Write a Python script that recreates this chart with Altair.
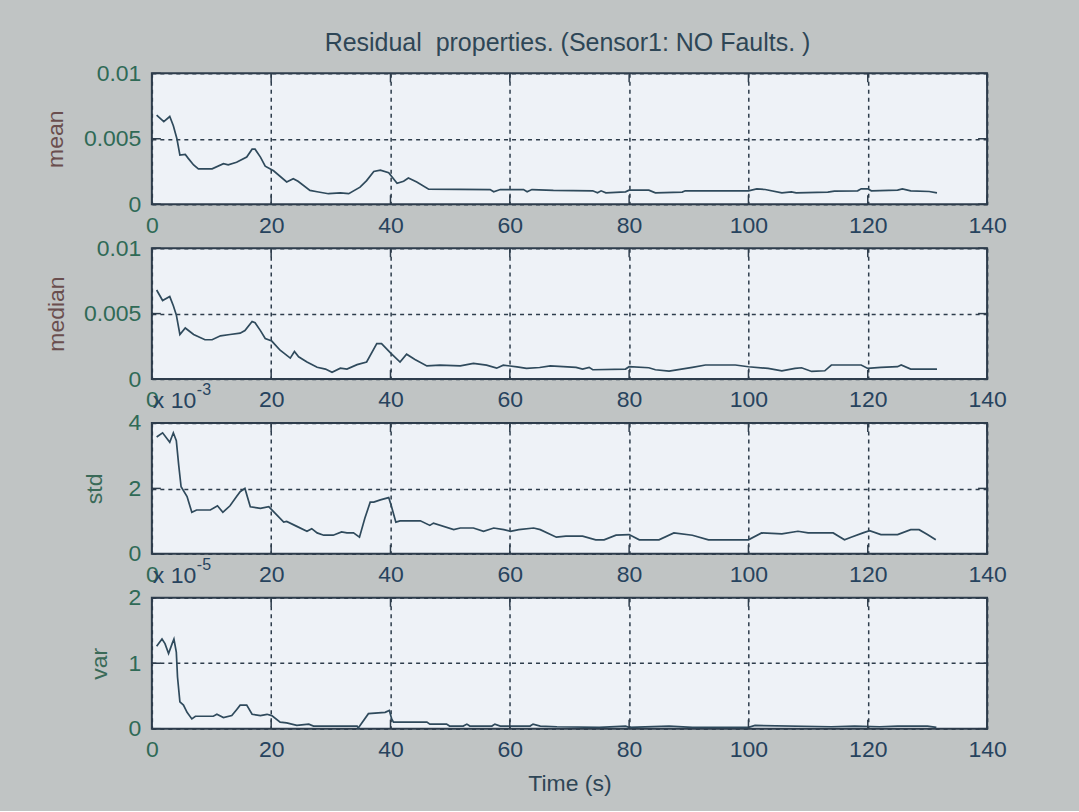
import altair as alt
import pandas as pd

TITLE = "Residual\u00a0 properties. (Sensor1: NO Faults. )"
x_ticks = [0, 20, 40, 60, 80, 100, 120, 140]

mean_t = [0.8, 2.0, 3.0, 3.6, 4.2, 4.7, 5.6, 6.1, 7.0, 7.8, 10.1, 12.0, 12.8, 14.2, 15.9, 16.8, 17.3, 18.2, 19.0, 20.4,
          22.6, 23.7, 24.5, 26.5, 27.7, 29.6, 31.6, 33.0, 34.9, 36.0, 37.2, 38.3, 39.7, 41.1, 42.2, 43.0, 44.4, 46.4,
          56.7, 57.3, 58.4, 62.3, 62.9, 63.7, 67.3, 73.9, 74.7, 75.3, 76.1, 79.4, 80.0, 83.3, 84.4, 88.9, 89.4, 100.0,
          101.4, 102.8, 105.6, 107.2, 108.0, 113.3, 114.4, 118.3, 118.9, 120.0, 120.6, 125.0, 125.8, 127.2, 130.3, 131.6]
mean_v = [0.0068, 0.0063, 0.0067, 0.0060, 0.0050, 0.00375, 0.0038, 0.0035, 0.0030, 0.0027, 0.0027, 0.0031, 0.0030,
          0.0032, 0.0036, 0.0042, 0.0042, 0.0036, 0.0029, 0.00255, 0.0017, 0.00195, 0.00175, 0.00105, 0.00095, 0.0008,
          0.00087, 0.0008, 0.0013, 0.0018, 0.0025, 0.0026, 0.0024, 0.0016, 0.00175, 0.0020, 0.0017, 0.00115, 0.00112,
          0.00095, 0.00112, 0.00112, 0.00095, 0.00112, 0.00105, 0.00102, 0.00087, 0.00102, 0.00087, 0.00094, 0.00107,
          0.00107, 0.00087, 0.00092, 0.00102, 0.00102, 0.00117, 0.00112, 0.00087, 0.00094, 0.00087, 0.00092, 0.0010,
          0.00102, 0.00117, 0.00117, 0.00102, 0.00107, 0.00117, 0.00102, 0.00097, 0.00087]

median_t = [0.8, 1.8, 3.0, 3.6, 4.1, 4.7, 5.6, 7.0, 8.9, 10.1, 11.5, 13.1, 14.8, 15.6, 16.8, 17.3, 18.2, 19.0, 20.1,
            21.5, 23.2, 23.9, 24.6, 26.0, 27.7, 29.1, 30.2, 31.6, 32.7, 34.4, 36.0, 37.7, 38.5, 40.0, 41.6, 42.7, 44.1,
            46.1, 48.3, 51.7, 53.9, 56.1, 57.8, 58.9, 61.2, 62.8, 65.0, 66.8, 71.1, 72.2, 73.3, 73.9, 79.4, 80.0, 83.3,
            84.4, 86.7, 90.6, 92.8, 97.8, 100.0, 103.3, 105.6, 107.8, 108.9, 110.6, 112.8, 113.9, 118.9, 120.0, 122.2,
            125.0, 125.6, 127.2, 131.6]
median_v = [0.0068, 0.0060, 0.0063, 0.0056, 0.0049, 0.0034, 0.0039, 0.0034, 0.0030, 0.0030, 0.0033, 0.0034, 0.0035,
            0.0037, 0.0044, 0.0043, 0.0037, 0.0031, 0.0029, 0.0022, 0.0016, 0.0021, 0.0017, 0.0013, 0.0009, 0.00076,
            0.00051, 0.00083, 0.00076, 0.0011, 0.0013, 0.0027, 0.0027, 0.0020, 0.0013, 0.0019, 0.0015, 0.0010, 0.00106,
            0.0010, 0.0012, 0.00106, 0.00083, 0.00106, 0.00093, 0.00081, 0.00088, 0.00100, 0.00089, 0.00076, 0.00089,
            0.00071, 0.00076, 0.00094, 0.00086, 0.00071, 0.00061, 0.00089, 0.00107, 0.00107, 0.00094, 0.00081, 0.00063,
            0.00081, 0.00086, 0.00058, 0.00063, 0.00107, 0.00107, 0.00081, 0.00089, 0.00094, 0.00107, 0.00076, 0.00076]

std_t = [0.8, 1.8, 3.0, 3.6, 4.1, 4.5, 4.9, 5.9, 6.7, 7.5, 9.8, 11.0, 11.9, 13.1, 14.2, 14.8, 15.6, 16.5, 18.2, 19.6,
         20.4, 22.1, 22.6, 24.3, 26.0, 26.8, 27.7, 28.8, 30.4, 31.8, 32.7, 33.8, 34.8, 35.7, 36.6, 37.2, 38.3, 39.7,
         40.1, 40.9, 41.6, 45.0, 46.6, 47.2, 50.6, 51.7, 53.9, 55.6, 57.3, 59.0, 60.1, 61.5, 64.0, 65.1, 67.8, 69.4,
         72.2, 74.4, 75.8, 77.8, 80.0, 81.7, 85.0, 87.5, 90.6, 93.3, 100.0, 102.2, 105.6, 108.3, 110.0, 114.2, 116.1,
         117.2, 119.2, 120.3, 122.2, 125.0, 127.2, 128.6, 130.0, 131.4]
std_v = [3.57, 3.70, 3.41, 3.70, 3.46, 2.71, 2.05, 1.75, 1.27, 1.34, 1.34, 1.47, 1.27, 1.47, 1.75, 1.90, 2.0, 1.44,
         1.39, 1.44, 1.29, 0.97, 0.99, 0.84, 0.69, 0.77, 0.64, 0.57, 0.57, 0.67, 0.64, 0.64, 0.51, 1.09, 1.58, 1.58,
         1.65, 1.72, 1.49, 0.97, 1.01, 1.01, 0.87, 0.94, 0.74, 0.79, 0.79, 0.69, 0.79, 0.74, 0.69, 0.74, 0.79, 0.74,
         0.51, 0.54, 0.54, 0.43, 0.43, 0.57, 0.59, 0.43, 0.43, 0.64, 0.57, 0.43, 0.43, 0.64, 0.61, 0.69, 0.64, 0.64,
         0.43, 0.51, 0.64, 0.71, 0.59, 0.59, 0.74, 0.74, 0.59, 0.43]

var_t = [0.8, 1.7, 2.2, 2.8, 3.4, 3.7, 4.1, 4.3, 4.7, 5.3, 5.9, 6.7, 7.3, 10.3, 10.9, 12.0, 13.4, 14.2, 14.8, 15.9,
         16.8, 18.2, 19.3, 20.1, 21.5, 22.6, 24.3, 26.3, 27.1, 34.4, 34.6, 36.3, 39.1, 39.8, 40.2, 40.5, 46.1, 46.6,
         49.4, 49.9, 52.2, 52.8, 53.3, 57.0, 57.5, 58.4, 63.4, 63.9, 65.1, 67.9, 75.0, 79.4, 80.0, 86.7, 90.6, 100.0,
         101.1, 113.9, 117.8, 122.0, 125.0, 130.0, 131.5]
var_v = [1.26, 1.37, 1.30, 1.15, 1.30, 1.37, 1.17, 0.79, 0.41, 0.36, 0.25, 0.15, 0.19, 0.19, 0.22, 0.17, 0.20, 0.29,
         0.36, 0.36, 0.22, 0.20, 0.22, 0.20, 0.10, 0.09, 0.05, 0.07, 0.04, 0.04, 0.01, 0.23, 0.25, 0.28, 0.15, 0.10,
         0.10, 0.07, 0.07, 0.04, 0.04, 0.07, 0.04, 0.04, 0.07, 0.04, 0.04, 0.07, 0.04, 0.03, 0.02, 0.04, 0.02, 0.04,
         0.02, 0.02, 0.05, 0.03, 0.04, 0.03, 0.04, 0.04, 0.02]

mean_yticks = [0, 0.005, 0.01]
std_yticks = [0.0, 2.0, 4.0]
var_yticks = [0.0, 1.0000001, 2.0]

W, H = 836, 131
FONT = "Liberation Sans"
BG = "#c0c4c4"
PLOT_BG = "#eef2f7"
FRAME = "#2e3d4c"
LINE = "#2f4a5c"
YLAB = "#2f6a56"
XLAB = "#27435e"
TXT = "#2e4656"


def panel(t, v, name, ymax, yticks, yfmt, title_x, title_color, exponent=None, xtitle=""):
    df = pd.DataFrame({"t": t, "v": v})
    xscale = alt.Scale(domain=[0, 140], nice=False, zero=False)
    yscale = alt.Scale(domain=[0, ymax], nice=False, zero=False)
    xaxis = alt.Axis(values=x_ticks, tickCount=20, grid=True, gridDash=[4, 4], gridColor=FRAME, gridWidth=1.5,
                     domain=False, ticks=False, tickSize=0, labelFont=FONT, labelFontSize=23,
                     labelColor=alt.condition("datum.value == 0", alt.value(YLAB), alt.value(XLAB)),
                     labelPadding=21, labelBaseline="middle", labelFlush=False, labelOverlap=False,
                     title=xtitle, titleFont=FONT, titleFontSize=23, titleFontWeight="normal",
                     titleColor=TXT, titleX=W / 2, titleY=55, titleBaseline="middle", titleAlign="center")
    yaxis = alt.Axis(values=yticks, tickCount=10, format=yfmt, grid=True, gridDash=[4, 4], gridColor=FRAME,
                     gridWidth=1.5, domain=False, ticks=False, tickSize=0, labelFont=FONT, labelFontSize=23,
                     labelColor=YLAB, labelPadding=11, labelBaseline="middle", labelFlush=False,
                     labelOverlap=False, title=name, titleFont=FONT, titleFontSize=23, titleFontWeight="normal",
                     titleColor=title_color, titleAngle=270, titleX=title_x, titleY=H / 2,
                     titleBaseline="middle", titleAlign="center")
    line = alt.Chart(df).mark_line(color=LINE, strokeWidth=1.7).encode(
        x=alt.X("t:Q", scale=xscale, axis=xaxis),
        y=alt.Y("v:Q", scale=yscale, axis=yaxis),
    )
    tx = pd.DataFrame({"tx": x_ticks})
    ty = pd.DataFrame({"ty": yticks})
    tick_b = alt.Chart(tx).mark_rule(color=FRAME, strokeWidth=1.5).encode(
        x=alt.X("tx:Q", scale=xscale, axis=xaxis), y=alt.value(H), y2=alt.value(H - 9))
    tick_t = alt.Chart(tx).mark_rule(color=FRAME, strokeWidth=1.5).encode(
        x=alt.X("tx:Q", scale=xscale, axis=xaxis), y=alt.value(0), y2=alt.value(9))
    tick_l = alt.Chart(ty).mark_rule(color=FRAME, strokeWidth=1.5).encode(
        y=alt.Y("ty:Q", scale=yscale, axis=yaxis), x=alt.value(0), x2=alt.value(9))
    tick_r = alt.Chart(ty).mark_rule(color=FRAME, strokeWidth=1.5).encode(
        y=alt.Y("ty:Q", scale=yscale, axis=yaxis), x=alt.value(W - 9), x2=alt.value(W))
    layers = [line, tick_b, tick_t, tick_l, tick_r]
    if exponent is not None:
        base = alt.Chart(pd.DataFrame({"label": ["x 10"]})).mark_text(
            align="left", baseline="middle", font=FONT, fontSize=23, color=XLAB).encode(
            x=alt.value(1), y=alt.value(-22), text="label:N")
        sup = alt.Chart(pd.DataFrame({"label": [exponent]})).mark_text(
            align="left", baseline="middle", font=FONT, fontSize=16, color=XLAB).encode(
            x=alt.value(45), y=alt.value(-33), text="label:N")
        layers += [base, sup]
    return layers


l1 = panel(mean_t, mean_v, "mean", 0.01, mean_yticks, ".3~f", -96, "#6a4e4e")
title_layer = alt.Chart(pd.DataFrame({"label": [TITLE]})).mark_text(
    align="center", baseline="middle", font=FONT, fontSize=25, color=TXT).encode(
    x=alt.value(W / 2 - 2), y=alt.value(-30), text="label:N")
p1 = alt.layer(*l1, title_layer).properties(width=W, height=H)
p2 = alt.layer(*panel(median_t, median_v, "median", 0.01, mean_yticks, ".3~f", -95,
                      "#6a4e4e")).properties(width=W, height=H)
p3 = alt.layer(*panel(std_t, std_v, "std", 4, std_yticks, ".0f", -57, "#3a6a58",
                      exponent="-3")).properties(width=W, height=H)
p4 = alt.layer(*panel(var_t, var_v, "var", 2, var_yticks, ".0f", -52, "#3a6a58", exponent="-5",
                      xtitle="Time (s)")).properties(width=W, height=H)

chart = alt.vconcat(p1, p2, p3, p4, spacing=44, bounds="flush").properties(
    padding={"left": 44, "top": 30, "right": 71, "bottom": 14},
    background=BG,
).configure_view(fill=PLOT_BG, stroke=FRAME, strokeWidth=2)

chart.save("out.html", embed_options={"renderer": "svg", "actions": False})
